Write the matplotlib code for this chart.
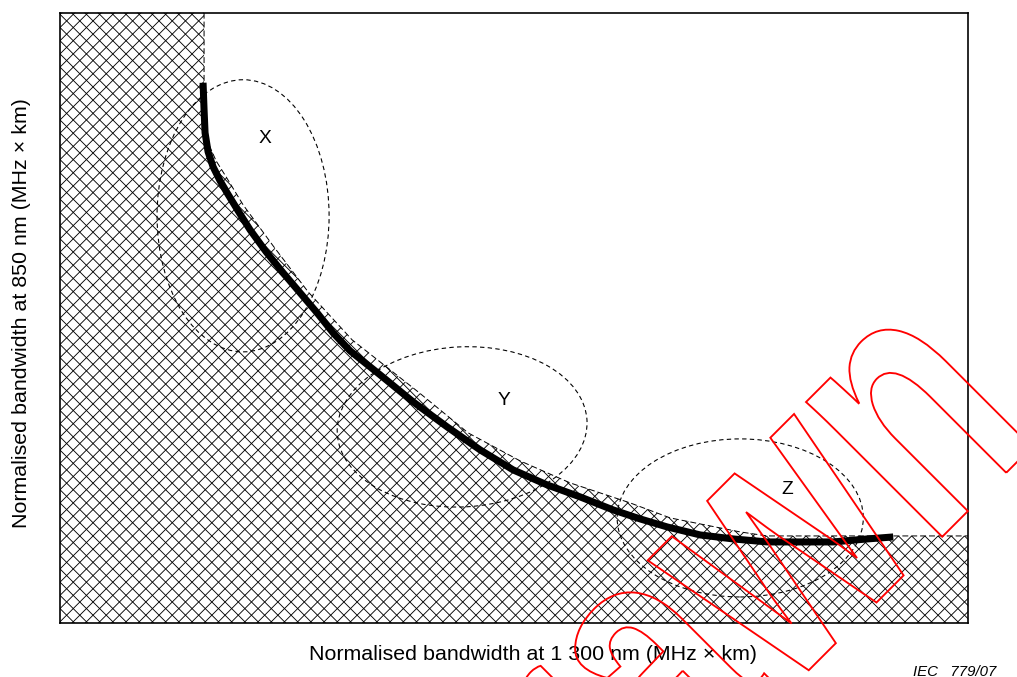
import numpy as np
import matplotlib
matplotlib.use("Agg")
import matplotlib.pyplot as plt
from matplotlib.patches import Polygon, Ellipse, PathPatch
from matplotlib.collections import LineCollection
from matplotlib.textpath import TextPath
from matplotlib.font_manager import FontProperties
from matplotlib.transforms import Affine2D

# ---------------- data (arbitrary normalised units, no ticks) ----------------
# thick boundary curve
curve_x = [143, 144, 145, 148, 153, 160, 167, 178, 190, 206, 223, 240, 257, 273, 290,
           320, 353, 387, 420, 453, 487, 520, 553, 580, 607, 640, 673, 707, 740, 773, 807, 833]
curve_y = [540, 513, 490, 471, 456, 442, 430, 412, 393, 371, 350, 330, 310, 290, 272,
           248, 221, 196, 173, 153, 138, 126, 113, 104, 96, 88, 84, 81, 81, 81, 84, 86]

# dashed outline of the hatched (excluded) region
bound_x = [144, 144, 148, 156, 166, 183, 213, 248, 292, 358, 408, 460, 510, 570, 610, 680, 707, 908]
bound_y = [610, 540, 480, 462, 446, 418, 377, 331, 283, 231, 190, 162, 140, 120, 105, 91, 87, 87]

# dashed regions X, Y, Z: centre x, centre y, width, height, angle
region_names = ["X", "Y", "Z"]
region_cx = [183, 402, 680]
region_cy = [407, 196, 105]
region_w = [172, 250, 246]
region_h = [272, 160, 158]
region_ang = [0, 3, 0]
label_x = [205, 444, 727]
label_y = [485, 223, 134]

x_limits = [0, 908]
y_limits = [0, 610]

xlabel = "Normalised bandwidth at 1 300 nm (MHz \u00d7 km)"
ylabel = "Normalised bandwidth at 850 nm (MHz \u00d7 km)"
ref_label = "IEC   779/07"
watermark = "Withdrawn"

# ---------------- figure ----------------
DPI = 79
W, H = 1017, 677
plt.rcParams["font.family"] = ["Liberation Sans", "DejaVu Sans"]
fig = plt.figure(figsize=((W + 0.3) / DPI, (H + 0.3) / DPI), dpi=DPI)
ax = fig.add_axes([60 / W, (H - 623) / H, (968 - 60) / W, (623 - 13) / H])
ax.set_xlim(*x_limits)
ax.set_ylim(*y_limits)
ax.set_xticks([])
ax.set_yticks([])
for s in ax.spines.values():
    s.set_linewidth(1.5)
    s.set_zorder(10)

# hatched region (cross-hatch clipped to the region outline)
poly_pts = [(x_limits[0], y_limits[1])] + list(zip(bound_x, bound_y)) + \
           [(x_limits[1], y_limits[0]), (x_limits[0], y_limits[0])]
region = Polygon(poly_pts, closed=True, facecolor="none", edgecolor="none", zorder=1)
ax.add_patch(region)
step = 13.2
offs = np.arange(-1200, 1200, step)
segs = [[(-1500, -1500 + c), (2500, 2500 + c)] for c in offs] + \
       [[(-1500, 1500 + c), (2500, -2500 + c)] for c in offs]
lc = LineCollection(segs, colors="black", linewidths=0.8, zorder=1)
lc.set_clip_path(region)
ax.add_collection(lc)
ax.plot(bound_x, bound_y, color="black", lw=0.9, linestyle=(0, (6, 3)), zorder=2)

# regions
for name, cx, cy, w, h, a, lx, ly in zip(region_names, region_cx, region_cy, region_w,
                                         region_h, region_ang, label_x, label_y):
    ax.add_patch(Ellipse((cx, cy), w, h, angle=a, fill=False, edgecolor="black",
                         lw=1.0, linestyle=(0, (4, 3)), zorder=3))
    ax.text(lx, ly, name, ha="center", va="center", fontsize=17.5, zorder=5)

# thick curve
ax.plot(curve_x, curve_y, color="black", lw=6.4, solid_capstyle="butt",
        solid_joinstyle="round", zorder=4)

# labels
fig.text(533 / W, (H - 660) / H, xlabel, ha="center", va="baseline", fontsize=19.5)
fig.text(21 / W, (H - 313) / H, ylabel, ha="center", va="center", rotation=90,
         fontsize=19.5)
fig.text(913 / W, (H - 676) / H, ref_label, ha="left", va="baseline",
         fontsize=13.7, style="italic")

# watermark (outlined red text)
fp = FontProperties(family="Liberation Sans", weight="bold")
tp = TextPath((0, 0), watermark, size=1, prop=fp)
xh = TextPath((0, 0), "x", size=1, prop=fp).get_extents().height
ww = TextPath((0, 0), "w", size=1, prop=fp).get_extents().width
n_ext = TextPath((0, 0), "n", size=1, prop=fp).get_extents()
n_left = tp.get_extents().x1 - n_ext.width
sx = 207.0 / ww
sy = 191.6 / xh
a_n = (806 - 402) / np.sqrt(2) + H / np.sqrt(2)
b0 = (H - 1479) / np.sqrt(2)
trans = Affine2D().scale(sx, sy).translate(a_n - n_left * sx, b0).rotate_deg(45)
fig.add_artist(PathPatch(tp, transform=trans, facecolor="none", edgecolor="red",
                         lw=1.7, zorder=20))

fig.savefig("out.png", dpi=DPI)
